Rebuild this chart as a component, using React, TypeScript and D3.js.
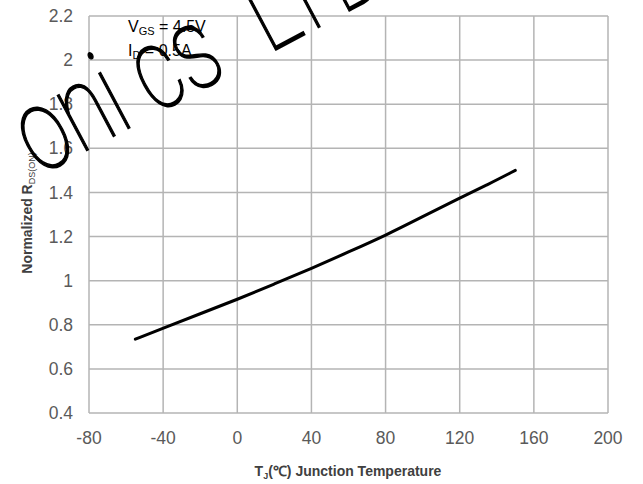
import { useEffect, useRef } from 'react';
import * as d3 from 'd3';

const tempC = [-55, -40, -20, 0, 20, 40, 60, 80, 100, 120, 135, 150];
const rdsNorm = [0.735, 0.785, 0.85, 0.915, 0.985, 1.055, 1.13, 1.205, 1.29, 1.375, 1.435, 1.5];

const xTicks = [-80, -40, 0, 40, 80, 120, 160, 200];
const yTicks = [0.4, 0.6, 0.8, 1, 1.2, 1.4, 1.6, 1.8, 2, 2.2];

const App = () => {
  const ref = useRef(null);

  useEffect(() => {
    const width = 643;
    const height = 484;
    const svg = d3.select(ref.current)
      .attr('width', width)
      .attr('height', height)
      .style('background', '#fff');
    svg.selectAll('*').remove();

    const x = d3.scaleLinear().domain([-80, 200]).range([89, 608]);
    const y = d3.scaleLinear().domain([0.4, 2.2]).range([413, 16]);

    const font = 'Liberation Sans, Arial, sans-serif';
    const gridColor = '#b4b4b4';

    // grid
    svg.append('g')
      .selectAll('line')
      .data(xTicks)
      .join('line')
      .attr('x1', (d) => x(d))
      .attr('x2', (d) => x(d))
      .attr('y1', y(0.4))
      .attr('y2', y(2.2))
      .attr('stroke', gridColor)
      .attr('stroke-width', 1.5);

    svg.append('g')
      .selectAll('line')
      .data(yTicks)
      .join('line')
      .attr('x1', x(-80))
      .attr('x2', x(200))
      .attr('y1', (d) => y(d))
      .attr('y2', (d) => y(d))
      .attr('stroke', gridColor)
      .attr('stroke-width', 1.5);

    // tick labels
    svg.append('g')
      .selectAll('text')
      .data(yTicks)
      .join('text')
      .text((d) => String(d))
      .attr('x', 73)
      .attr('y', (d) => y(d))
      .attr('dy', '0.35em')
      .attr('text-anchor', 'end')
      .attr('font-family', font)
      .attr('font-size', 17.5)
      .attr('fill', '#5a5a5a');

    svg.append('g')
      .selectAll('text')
      .data(xTicks)
      .join('text')
      .text((d) => String(d))
      .attr('x', (d) => x(d))
      .attr('y', 444)
      .attr('text-anchor', 'middle')
      .attr('font-family', font)
      .attr('font-size', 17.5)
      .attr('fill', '#5a5a5a');

    // curve
    const pts = tempC.map((t, i) => [t, rdsNorm[i]]);
    const line = d3.line()
      .x((d) => x(d[0]))
      .y((d) => y(d[1]))
      .curve(d3.curveBasis);

    svg.append('path')
      .attr('d', line(pts))
      .attr('fill', 'none')
      .attr('stroke', '#000')
      .attr('stroke-width', 3)
      .attr('stroke-linecap', 'round');

    // conditions
    const note = svg.append('g')
      .attr('font-family', font)
      .attr('font-size', 16)
      .attr('fill', '#000');
    const t1 = note.append('text').attr('x', 128).attr('y', 32);
    t1.append('tspan').text('V');
    t1.append('tspan').text('GS').attr('font-size', 11).attr('dy', 3);
    t1.append('tspan').text(' = 4.5V').attr('dy', -3);
    const t2 = note.append('text').attr('x', 128).attr('y', 56);
    t2.append('tspan').text('I');
    t2.append('tspan').text('D').attr('font-size', 11).attr('dy', 3);
    t2.append('tspan').text(' = 0.5A').attr('dy', -3);

    // axis titles
    const xt = svg.append('text')
      .attr('x', 348)
      .attr('y', 476)
      .attr('text-anchor', 'middle')
      .attr('font-family', font)
      .attr('font-weight', 'bold')
      .attr('font-size', 14)
      .attr('fill', '#404040');
    xt.append('tspan').text('T');
    xt.append('tspan').text('J').attr('font-size', 9).attr('dy', 3);
    xt.append('tspan').text('(℃) Junction Temperature').attr('dy', -3);

    const yt = svg.append('text')
      .attr('transform', 'translate(32,213) rotate(-90)')
      .attr('text-anchor', 'middle')
      .attr('font-family', font)
      .attr('font-weight', 'bold')
      .attr('font-size', 14)
      .attr('fill', '#404040');
    yt.append('tspan').text('Normalized R');
    yt.append('tspan').text('DS(ON)').attr('font-size', 9).attr('font-weight', 'normal').attr('dy', 3);

    // watermark over everything, narrow and tilted
    const wm = svg.append('g')
      .attr('transform', 'translate(39,176) rotate(-28) scale(0.72,1)')
      .attr('font-family', 'Roboto, sans-serif')
      .attr('font-weight', 100)
      .attr('font-size', 118)
      .attr('fill', '#000')
      .attr('stroke', '#000')
      .attr('stroke-width', 1.5);
    wm.append('text').text('Electr').attr('x', -56).attr('text-anchor', 'end');
    const wt = wm.append('text');
    wt.append('tspan').text('oni cs');
    wt.append('tspan').text('LTD').attr('dx', 60);
  }, []);

  return (
    <div style={{ position: 'absolute', left: 0, top: 0 }}>
      <svg ref={ref}></svg>
    </div>
  );
};

export default App;
